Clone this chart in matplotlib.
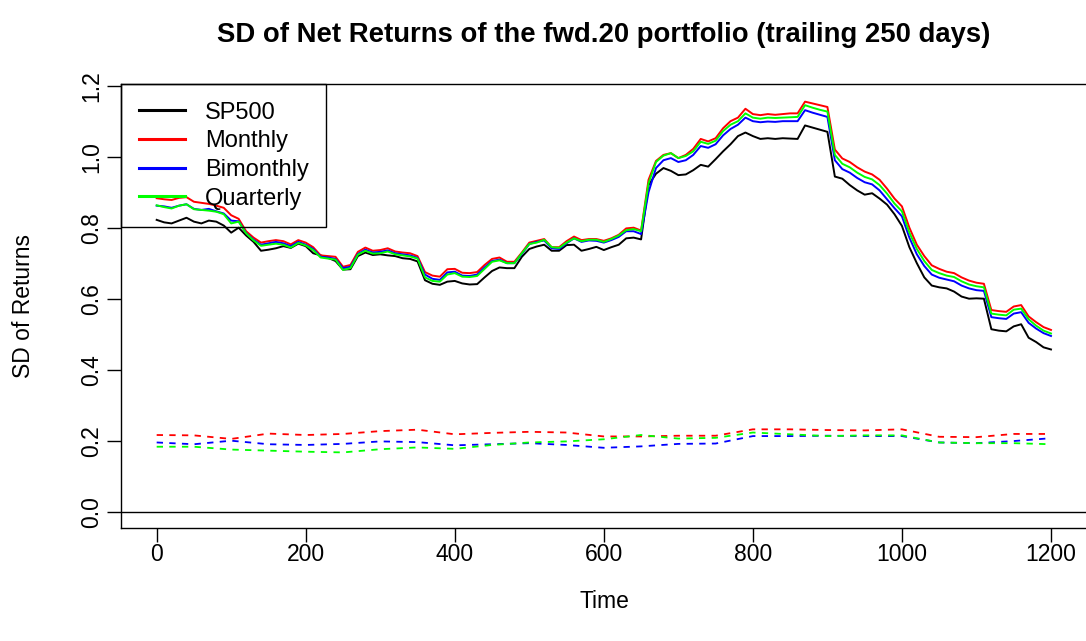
import numpy as np
import matplotlib.pyplot as plt

plt.rcParams['font.family'] = ['Liberation Sans', 'DejaVu Sans']

# trailing SD, sampled every 10 days
days = np.arange(0, 1201, 10)

sp500 = [0.822, 0.815, 0.812, 0.820, 0.828, 0.817, 0.812, 0.820, 0.817, 0.806,
         0.786, 0.800, 0.778, 0.760, 0.735, 0.738, 0.742, 0.748, 0.743, 0.755,
         0.748, 0.728, 0.722, 0.715, 0.706, 0.682, 0.683, 0.720, 0.730, 0.723,
         0.725, 0.722, 0.720, 0.714, 0.712, 0.705, 0.652, 0.642, 0.639, 0.648,
         0.650, 0.643, 0.640, 0.641, 0.660, 0.678, 0.688, 0.686, 0.686, 0.718,
         0.740, 0.747, 0.752, 0.735, 0.735, 0.751, 0.752, 0.735, 0.740, 0.746,
         0.737, 0.745, 0.752, 0.770, 0.772, 0.767, 0.920, 0.952, 0.968, 0.960,
         0.948, 0.950, 0.962, 0.977, 0.972, 0.993, 1.015, 1.035, 1.058, 1.068,
         1.058, 1.050, 1.052, 1.050, 1.052, 1.051, 1.050, 1.088, 1.082, 1.076,
         1.070, 0.944, 0.938, 0.920, 0.905, 0.893, 0.897, 0.882, 0.865, 0.838,
         0.805, 0.745, 0.700, 0.660, 0.637, 0.632, 0.629, 0.620, 0.606, 0.600,
         0.601, 0.600, 0.514, 0.510, 0.508, 0.522, 0.528, 0.490, 0.478, 0.463,
         0.457]

monthly = [0.883, 0.880, 0.878, 0.884, 0.886, 0.873, 0.870, 0.867, 0.862, 0.856,
           0.835, 0.825, 0.790, 0.772, 0.758, 0.762, 0.765, 0.762, 0.753, 0.765,
           0.758, 0.745, 0.722, 0.720, 0.718, 0.690, 0.695, 0.732, 0.744, 0.735,
           0.737, 0.742, 0.733, 0.730, 0.728, 0.720, 0.675, 0.665, 0.662, 0.683,
           0.684, 0.673, 0.672, 0.675, 0.695, 0.712, 0.716, 0.704, 0.704, 0.730,
           0.758, 0.763, 0.768, 0.745, 0.745, 0.762, 0.775, 0.765, 0.768, 0.768,
           0.763, 0.770, 0.780, 0.798, 0.800, 0.792, 0.935, 0.988, 1.005, 1.010,
           0.996, 1.005, 1.022, 1.050, 1.043, 1.052, 1.080, 1.100, 1.110, 1.135,
           1.120, 1.117, 1.120, 1.118, 1.120, 1.122, 1.122, 1.155, 1.150, 1.145,
           1.140, 1.020, 0.995, 0.985, 0.970, 0.958, 0.950, 0.935, 0.910, 0.882,
           0.860, 0.800, 0.752, 0.720, 0.694, 0.684, 0.676, 0.672, 0.660, 0.651,
           0.645, 0.642, 0.568, 0.565, 0.563, 0.578, 0.582, 0.550, 0.534, 0.520,
           0.512]

bimonthly = [0.862, 0.860, 0.856, 0.862, 0.866, 0.853, 0.850, 0.853, 0.846, 0.840,
             0.820, 0.818, 0.785, 0.766, 0.752, 0.756, 0.760, 0.756, 0.748, 0.760,
             0.752, 0.740, 0.718, 0.716, 0.712, 0.686, 0.690, 0.726, 0.738, 0.730,
             0.732, 0.736, 0.728, 0.725, 0.722, 0.715, 0.668, 0.656, 0.653, 0.674,
             0.676, 0.665, 0.664, 0.668, 0.688, 0.706, 0.710, 0.700, 0.700, 0.726,
             0.754, 0.760, 0.764, 0.742, 0.740, 0.756, 0.770, 0.760, 0.764, 0.763,
             0.758, 0.765, 0.774, 0.790, 0.790, 0.782, 0.900, 0.968, 0.990, 0.996,
             0.985, 0.990, 1.005, 1.030, 1.025, 1.035, 1.060, 1.078, 1.090, 1.110,
             1.100, 1.097, 1.099, 1.098, 1.100, 1.100, 1.100, 1.131, 1.124, 1.118,
             1.112, 0.990, 0.965, 0.955, 0.940, 0.928, 0.922, 0.905, 0.880, 0.855,
             0.832, 0.772, 0.725, 0.692, 0.668, 0.659, 0.654, 0.649, 0.637, 0.629,
             0.624, 0.622, 0.548, 0.545, 0.543, 0.558, 0.562, 0.532, 0.516, 0.503,
             0.495]

quarterly = [0.863, 0.858, 0.854, 0.862, 0.866, 0.852, 0.850, 0.848, 0.845, 0.838,
             0.812, 0.817, 0.784, 0.764, 0.749, 0.752, 0.755, 0.752, 0.744, 0.757,
             0.750, 0.737, 0.716, 0.713, 0.710, 0.681, 0.686, 0.724, 0.735, 0.727,
             0.728, 0.733, 0.725, 0.722, 0.719, 0.713, 0.660, 0.650, 0.648, 0.668,
             0.672, 0.662, 0.661, 0.664, 0.684, 0.704, 0.708, 0.700, 0.700, 0.728,
             0.754, 0.758, 0.766, 0.745, 0.743, 0.758, 0.770, 0.762, 0.766, 0.766,
             0.760, 0.768, 0.778, 0.793, 0.796, 0.790, 0.925, 0.985, 1.003, 1.010,
             0.996, 1.002, 1.015, 1.042, 1.036, 1.045, 1.072, 1.090, 1.100, 1.122,
             1.110, 1.107, 1.110, 1.109, 1.110, 1.111, 1.112, 1.145, 1.138, 1.132,
             1.127, 1.005, 0.980, 0.970, 0.955, 0.943, 0.936, 0.920, 0.896, 0.868,
             0.846, 0.786, 0.740, 0.706, 0.681, 0.672, 0.665, 0.661, 0.649, 0.640,
             0.635, 0.632, 0.558, 0.555, 0.553, 0.569, 0.572, 0.542, 0.524, 0.510,
             0.502]

# gross (dashed) series, sampled every 50 days
days_g = np.arange(0, 1201, 50)
monthly_g = [0.216, 0.215, 0.205, 0.220, 0.216, 0.219, 0.227, 0.231, 0.218, 0.222,
             0.225, 0.223, 0.212, 0.212, 0.214, 0.214, 0.232, 0.232, 0.230, 0.229,
             0.232, 0.211, 0.210, 0.219, 0.219]
bimonthly_g = [0.195, 0.190, 0.200, 0.190, 0.188, 0.191, 0.198, 0.196, 0.187, 0.190,
               0.193, 0.188, 0.180, 0.184, 0.191, 0.192, 0.213, 0.213, 0.214, 0.213,
               0.213, 0.195, 0.193, 0.199, 0.207]
quarterly_g = [0.183, 0.183, 0.175, 0.172, 0.169, 0.167, 0.176, 0.181, 0.177, 0.188,
               0.195, 0.198, 0.204, 0.216, 0.206, 0.208, 0.223, 0.218, 0.213, 0.215,
               0.215, 0.195, 0.193, 0.193, 0.190]

labels = ['SP500', 'Monthly', 'Bimonthly', 'Quarterly']
colors = ['black', 'red', 'blue', 'lime']

fig = plt.figure(figsize=(10.86, 6.41), dpi=100)
ax = fig.add_axes([0.1114, 0.1763, 0.8895, 0.6927])

for ys, c, lab in zip([sp500, monthly, bimonthly, quarterly], colors, labels):
    ax.plot(days, ys, color=c, lw=1.4, label=lab)
for ys, c in zip([monthly_g, bimonthly_g, quarterly_g], colors[1:]):
    ax.plot(days_g, ys, color=c, lw=1.3, dashes=(3.5, 3.5))

ax.axhline(0, color='black', lw=1.0)

ax.set_xlim(-47.9, 1248.3)
ax.set_ylim(-0.0459, 1.2048)
ax.set_xticks(range(0, 1201, 200))
ax.set_yticks(np.arange(0, 1.21, 0.2))
ax.set_yticklabels([f'{v:.1f}' for v in np.arange(0, 1.21, 0.2)],
                   rotation=90, va='center')
ax.tick_params(axis='both', labelsize=16.5, length=10, width=1.0, direction='out')
ax.tick_params(axis='y', pad=2.5)
ax.tick_params(axis='x', pad=1)
for s in ax.spines.values():
    s.set_linewidth(1.0)

ax.set_title('SD of Net Returns of the fwd.20 portfolio (trailing 250 days)',
             fontsize=19.8, fontweight='bold', pad=30)
ax.set_xlabel('Time', fontsize=16.5, labelpad=17)
ax.set_ylabel('SD of Returns', fontsize=16.5, labelpad=33)

leg = ax.legend(loc='upper left', borderaxespad=0, fontsize=17.0,
                handlelength=1.95, handletextpad=0.85, labelspacing=0.28,
                borderpad=0.75, fancybox=False)
frame = leg.get_frame()
frame.set_facecolor('none')
frame.set_edgecolor('black')
frame.set_linewidth(1.0)
frame.set_alpha(1)
for h in leg.get_lines():
    h.set_linewidth(2.2)

fig.savefig('out.png', dpi=100)
